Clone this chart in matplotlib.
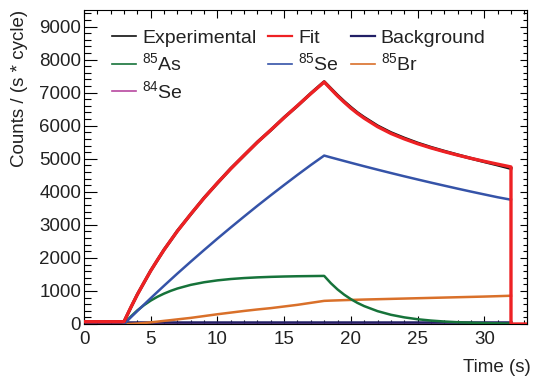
import numpy as np
import matplotlib
matplotlib.use("Agg")
import matplotlib.pyplot as plt
from matplotlib.lines import Line2D
from matplotlib.ticker import MultipleLocator

plt.rcParams['font.family'] = ['Liberation Sans', 'DejaVu Sans']
plt.rcParams['mathtext.fontset'] = 'custom'
plt.rcParams['mathtext.rm'] = 'Liberation Sans'
plt.rcParams['mathtext.it'] = 'Liberation Sans:italic'
plt.rcParams['mathtext.bf'] = 'Liberation Sans:bold'

# time grid (s) shared by all curves
time_s = [0, 3, 3.5, 4, 4.5, 5, 5.5, 6, 6.5, 7, 8, 9, 10, 11, 12, 13, 14, 15, 16, 17, 18,
          18.5, 19, 19.5, 20, 20.5, 21, 22, 23, 24, 25, 26, 27, 28, 29, 30, 31, 32]

experimental = [72, 75, 490, 898, 1252, 1615, 1930, 2250, 2528, 2818, 3320, 3818, 4262, 4705,
                5100, 5506, 5865, 6250, 6600, 6978, 7330,
                7125, 6920, 6730, 6555, 6390, 6250, 5995, 5790, 5625, 5475, 5345, 5228, 5118,
                5012, 4910, 4810, 4705]

fit = [70, 70, 496, 891, 1259, 1609, 1935, 2243, 2533, 2811, 3325, 3811, 4269, 4697,
       5107, 5499, 5871, 6243, 6607, 6970, 7321,
       7110, 6900, 6710, 6530, 6370, 6225, 5970, 5765, 5600, 5455, 5328, 5215, 5110,
       5012, 4922, 4836, 4752]
# fit drops to zero after the last cycle point
fit_tail_time = [32, 33.2]
fit_tail = [0, 0]

background = [60] * len(time_s)
se84 = [10] * len(time_s)

as85 = [None, 0, 223, 412, 571, 708, 823, 920, 1003, 1074, 1184, 1263, 1320, 1361,
        1390, 1411, 1426, 1437, 1445, 1450, 1455,
        1234, 1046, 887, 752, 637, 541, 389, 279, 201, 144, 104, 75, 54, 39, 28, 20, 14]

se85 = [None, 0, 198, 394, 588, 781, 970, 1158, 1343, 1527, 1886, 2238, 2584, 2921,
        3252, 3578, 3895, 4206, 4512, 4810, 5096,
        5040, 4986, 4932, 4878, 4825, 4772, 4669, 4568, 4469, 4373, 4278, 4186, 4095,
        4006, 3920, 3835, 3760]

br85 = [None, 0, 5, 15, 30, 50, 72, 95, 117, 140, 185, 240, 295, 345, 395, 440, 480,
        530, 580, 640, 700,
        708, 715, 722, 728, 734, 740, 750, 760, 770, 780, 790, 800, 810, 820, 830, 842, 855]

colors = {
    "exp": "#111111",
    "fit": "#ee2124",
    "bkg": "#221f66",
    "as85": "#16733a",
    "se85": "#3553a8",
    "br85": "#d9702a",
    "se84": "#b8489f",
}


def main():
    fig = plt.figure(figsize=(5.33, 3.83), dpi=100)
    ax = fig.add_axes([84 / 533, 1 - 324 / 383, 443 / 533, 314 / 383])

    t = np.array(time_s, dtype=float)
    ax.plot(t, np.array(se84, dtype=float), color=colors["se84"], lw=1.8, zorder=2)
    ax.plot(t, np.array(background, dtype=float), color=colors["bkg"], lw=1.8, zorder=2)
    ax.plot(t, np.array(br85, dtype=float), color=colors["br85"], lw=1.8, zorder=3)
    ax.plot(t, np.array(as85, dtype=float), color=colors["as85"], lw=1.8, zorder=3)
    ax.plot(t, np.array(se85, dtype=float), color=colors["se85"], lw=1.8, zorder=3)
    ax.plot(t, np.array(experimental, dtype=float), color=colors["exp"], lw=2.2, zorder=4)
    ax.plot(np.concatenate([t, fit_tail_time]), np.concatenate([fit, fit_tail]),
            color=colors["fit"], lw=2.4, zorder=5)

    ax.set_xlim(0, 33.2)
    ax.set_ylim(0, 9500)
    ax.xaxis.set_major_locator(MultipleLocator(5))
    ax.xaxis.set_minor_locator(MultipleLocator(1))
    ax.yaxis.set_major_locator(MultipleLocator(1000))
    ax.yaxis.set_minor_locator(MultipleLocator(200))

    ax.tick_params(which='both', direction='in', top=True, right=False,
                   labelsize=13.5, labelcolor='#222222', width=0.8)
    ax.tick_params(axis='x', which='major', length=6, pad=5)
    ax.tick_params(axis='x', which='minor', length=3)
    ax.tick_params(axis='y', which='major', length=9, pad=2)
    ax.tick_params(axis='y', which='minor', length=5)

    sec = ax.secondary_yaxis('right')
    sec.yaxis.set_major_locator(MultipleLocator(1000))
    sec.yaxis.set_minor_locator(MultipleLocator(200))
    sec.tick_params(which='both', direction='in', labelright=False, width=0.8)
    sec.tick_params(which='major', length=5)
    sec.tick_params(which='minor', length=3)

    for sp in ax.spines.values():
        sp.set_linewidth(0.8)

    fig.text(531 / 533, 1 - 368 / 383, "Time (s)", ha='right', va='center',
             fontsize=13.5, color='#222222')
    fig.text(20 / 533, 1 - 10 / 383, "Counts / (s * cycle)", rotation=90,
             ha='center', va='top', fontsize=13.5, color='#222222')

    handles = [
        Line2D([], [], color=colors["exp"], lw=1.2),
        Line2D([], [], color=colors["as85"], lw=1.2),
        Line2D([], [], color=colors["se84"], lw=1.2),
        Line2D([], [], color=colors["fit"], lw=1.6),
        Line2D([], [], color=colors["se85"], lw=1.2),
        Line2D([], [], color=colors["bkg"], lw=1.6),
        Line2D([], [], color=colors["br85"], lw=1.2),
    ]
    labels = ["Experimental", r"$^{85}$As", r"$^{84}$Se", "Fit", r"$^{85}$Se",
              "Background", r"$^{85}$Br"]
    leg = ax.legend(handles, labels, ncol=3, loc='upper left',
                    bbox_to_anchor=(0.063, 0.938), frameon=False, fontsize=14,
                    handlelength=1.25, handletextpad=0.3, columnspacing=0.6,
                    labelspacing=0.28, borderpad=0, borderaxespad=0)
    for txt in leg.get_texts():
        txt.set_color('#222222')

    fig.savefig("out.png", dpi=100)


if __name__ == "__main__":
    main()
